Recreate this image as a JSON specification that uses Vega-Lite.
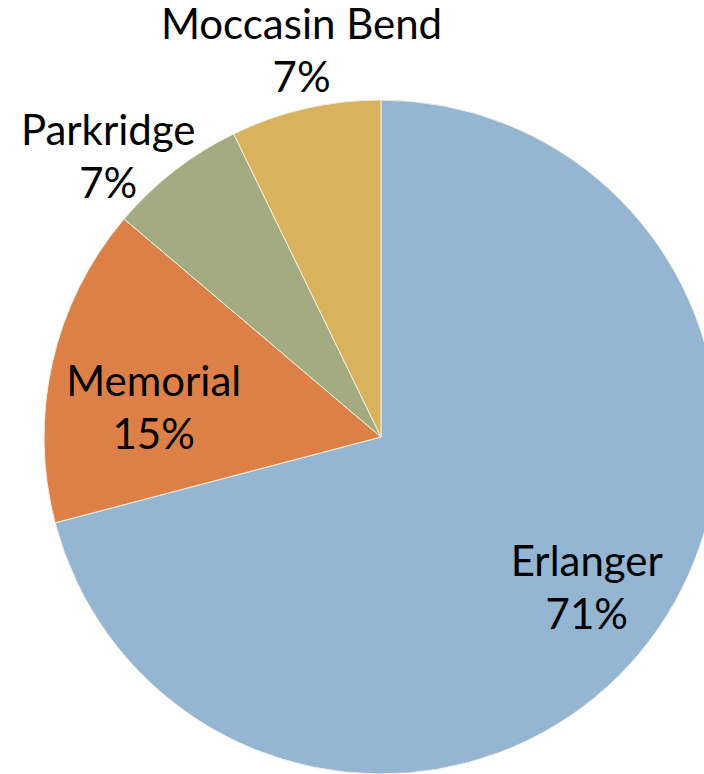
{
  "$schema": "https://vega.github.io/schema/vega-lite/v6.json",
  "autosize": "none",
  "width": 646,
  "height": 674,
  "padding": {"left": 58, "top": 100, "right": 0, "bottom": 0},
  "background": "white",
  "config": {"view": {"stroke": null}, "text": {"font": "Lato", "fontSize": 42, "lineBreak": "\n", "lineHeight": 53, "color": "black"}},
  "data": {"values": [
    {"name": "Erlanger", "idx": 1, "value": 70.9, "label": "Erlanger\n71%"},
    {"name": "Memorial", "idx": 2, "value": 15.3, "label": "Memorial\n15%"},
    {"name": "Parkridge", "idx": 3, "value": 6.6, "label": "Parkridge\n7%"},
    {"name": "Moccasin Bend", "idx": 4, "value": 7.2, "label": "Moccasin Bend\n7%"}
  ]},
  "encoding": {
    "theta": {"field": "value", "type": "quantitative", "stack": true},
    "order": {"field": "idx", "type": "quantitative"}
  },
  "layer": [
    {
      "mark": {"type": "arc", "outerRadius": 337, "stroke": "#f4efe0", "strokeWidth": 1},
      "encoding": {
        "color": {
          "field": "name", "type": "nominal",
          "scale": {"domain": ["Erlanger", "Memorial", "Parkridge", "Moccasin Bend"],
                    "range": ["#94b6d2", "#dd8047", "#a5ab81", "#d8b25c"]},
          "legend": null
        }
      }
    },
    {
      "mark": {"type": "text", "radius": 256, "dx": 3, "dy": -30},
      "encoding": {"text": {"condition": {"test": "datum.name == 'Erlanger'", "field": "label"}, "value": ""}}
    },
    {
      "mark": {"type": "text", "radius": 228, "dx": -5, "dy": -4},
      "encoding": {"text": {"condition": {"test": "datum.name == 'Memorial'", "field": "label"}, "value": ""}}
    },
    {
      "mark": {"type": "text", "radius": 388, "dx": -35, "dy": 2},
      "encoding": {"text": {"condition": {"test": "datum.name == 'Parkridge'", "field": "label"}, "value": ""}}
    },
    {
      "mark": {"type": "text", "radius": 390, "dx": 8, "dy": -31},
      "encoding": {"text": {"condition": {"test": "datum.name == 'Moccasin Bend'", "field": "label"}, "value": ""}}
    }
  ]
}
